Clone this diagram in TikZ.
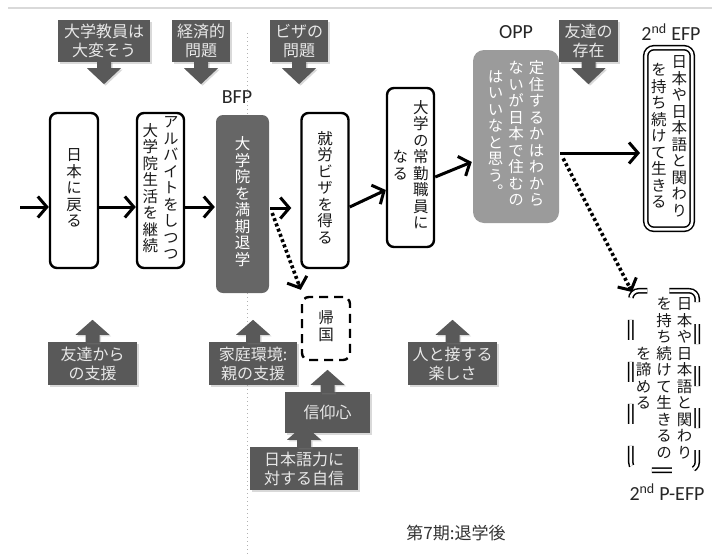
\documentclass[tikz,border=0pt]{standalone}
\usepackage{fontspec}
\setmainfont{Carlito}
\newfontfamily\jp{Noto Sans CJK JP}
\newfontfamily\vjp[RawFeature=+vert]{Noto Sans CJK JP}
\usetikzlibrary{arrows.meta,shadows,calc}
\ExplSyntaxOn
\tl_new:N \l_vc_tl
\NewDocumentCommand\vcol{m}{
  \tl_clear:N \l_vc_tl
  \tl_map_inline:nn {#1} { \tl_put_right:Nn \l_vc_tl { \smash{##1} \\ } }
  \begin{tabular}{@{}c@{}} \l_vc_tl \end{tabular}
}
\ExplSyntaxOff
\newcommand\vfont{\vjp\fontsize{15.5}{16.5}\selectfont}
\newcommand\cfont{\jp\fontsize{16}{19}\selectfont}
\newcommand\lfont{\fontsize{20}{24}\selectfont}
\newcommand\cg{\hspace{5pt}}
\definecolor{cgray}{HTML}{595959}
\definecolor{ctext}{HTML}{E8E8E8}
\definecolor{dgray}{HTML}{666666}
\definecolor{lgray}{HTML}{9B9B9B}
\newcommand\calldown[1]{\fill[callarrow] ($(#1.south)+(-7,-1)$) -- ($(#1.south)+(-7,6)$) -- ($(#1.south)+(-17,6)$) -- ($(#1.south)+(0,22)$) -- ($(#1.south)+(17,6)$) -- ($(#1.south)+(7,6)$) -- ($(#1.south)+(7,-1)$) -- cycle;}
\newcommand\callup[1]{\fill[callarrow] ($(#1.north)+(-7,1)$) -- ($(#1.north)+(-7,-7)$) -- ($(#1.north)+(-17,-7)$) -- ($(#1.north)+(0,-22)$) -- ($(#1.north)+(17,-7)$) -- ($(#1.north)+(7,-7)$) -- ($(#1.north)+(7,1)$) -- cycle;}
\begin{document}
\begin{tikzpicture}[x=1pt,y=-1pt,
 vbox/.style={draw=black, line width=2.4pt, rounded corners=7pt, inner sep=0pt, font=\vfont, text=black!90},
 darkbox/.style={vbox, draw=none, fill=dgray, text=white},
 oppbox/.style={vbox, draw=none, fill=lgray, text=white, rounded corners=11pt},
 dblbox/.style={vbox, line width=1.5pt, double=white, double distance=2.6pt, rounded corners=8pt},
 dashbox/.style={vbox, dash pattern=on 9pt off 6pt},
 dbldash/.style={dblbox, dash pattern=on 20pt off 22pt},
 callbox/.style={fill=cgray, text=ctext, font=\cfont, align=center, inner sep=0pt, drop shadow={opacity=0.3,shadow xshift=1.5pt,shadow yshift=-1.5pt}},
 callarrow/.style={fill=cgray, drop shadow={opacity=0.3,shadow xshift=1.5pt,shadow yshift=-1.5pt}},
 flow/.style={line width=3pt, -{Straight Barb[length=9pt,width=21pt]}},
 dotline/.style={line width=3.6pt, dash pattern=on 3pt off 2.6pt},
 lbl/.style={font=\lfont, text=black!85, inner sep=0pt},
]
\useasboundingbox (0,0) rectangle (712,555);
% background rules
\draw[gray!30, line width=2pt] (8,8) -- (712,8);
\draw[gray!60, line width=1pt, dash pattern=on 1pt off 3pt] (247,33) -- (247,555);

% main boxes
\node[vbox, minimum width=48pt, minimum height=155pt] (n1) at (74,190.5) {\vcol{日本に戻る}};
\node[vbox, minimum width=47pt, minimum height=155pt] (n2) at (160.5,190.5) {\vcol{大学院生活を継続}\cg\vcol{アルバイトをしつつ}};
\node[darkbox, minimum width=53pt, minimum height=178pt] (n3) at (242.5,204) {\vcol{大学院を満期退学}};
\node[vbox, minimum width=47pt, minimum height=155pt] (n4) at (325,190.5) {\vcol{就労ビザを得る}};
\node[vbox, minimum width=47pt, minimum height=159pt] (n5) at (410.5,167.5) {\vcol{なる}\cg\vcol{大学の常勤職員に}};
\node[oppbox, minimum width=86pt, minimum height=173pt] (opp) at (516,136.5) {\vcol{はいいなと思う。}\cg\vcol{ないが日本で住むの}\cg\vcol{定住するかはわから}};
\node[dblbox, minimum width=46.5pt, minimum height=181.5pt] (efp) at (669,138.5) {\vcol{を持ち続けて生きる}\cg\vcol{日本や日本語と関わり}};
\node[dashbox, minimum width=48pt, minimum height=63pt] (kikoku) at (326,328.5) {\vcol{帰国}};
\node[dbldash, minimum width=66.5pt, minimum height=179.5pt] (pefp) at (664,380.5) {\vcol{を諦める}\cg\vcol{を持ち続けて生きるの}\cg\vcol{日本や日本語と関わり}};

% labels
\node[lbl] (bfp) at (237,97) {BFP};
\node[lbl] (opplbl) at (516,32) {OPP};
\node[lbl] (efplbl) at (671,32) {2\textsuperscript{nd} EFP};
\node[lbl] (pefplbl) at (667,492) {2\textsuperscript{nd} P-EFP};
\node[font=\jp\fontsize{17}{20}\selectfont, text=black!80, inner sep=0pt] (cap) at (456,533) {第7期:退学後};

% callouts (down)
\node[callbox, minimum width=92pt, minimum height=42pt] (c1) at (104,41) {大学教員は\\大変そう};
\node[callbox, minimum width=58pt, minimum height=42pt] (c2) at (201,41) {経済的\\問題};
\node[callbox, minimum width=58pt, minimum height=42pt] (c3) at (299,41) {ビザの\\問題};
\node[callbox, minimum width=59pt, minimum height=42pt] (c4) at (588.5,41) {友達の\\存在};
\calldown{c1}\calldown{c2}\calldown{c3}\calldown{c4}

% callouts (up)
\node[callbox, minimum width=89pt, minimum height=43pt] (c5) at (92.5,363.5) {友達から\\の支援};
\node[callbox, minimum width=88pt, minimum height=43pt] (c6) at (253,363.5) {家庭環境:\\親の支援};
\node[callbox, minimum width=89pt, minimum height=43pt] (c7) at (452.5,363.5) {人と接する\\楽しさ};
\node[callbox, minimum width=85pt, minimum height=41pt] (c8) at (327.5,412.5) {信仰心};
\callup{c5}\callup{c6}\callup{c7}\callup{c8}
\node[callbox, minimum width=108pt, minimum height=43pt] (c9) at (304,468.5) {日本語力に\\対する自信};
\callup{c9}

% flow arrows
\coordinate (start) at (20,207);
\draw[flow] (start) -- (start -| n1.west);
\draw[flow] ($(n1.east)+(0,16.5)$) -- ($(n2.west)+(0,16.5)$);
\draw[flow] ($(n2.east)+(0,16.5)$) -- ($(n3.west)+(0,3)$);
\draw[flow, shorten >=9pt] ($(n3.east)+(0,4)$) -- ($(n4.west)+(0,17.5)$);
\draw[flow] ($(n4.east)+(0,16.5)$) -- ($(n5.west)+(0,22.5)$);
\draw[flow] ($(n5.east)+(0,9.5)$) -- ($(opp.west)+(0,25.5)$);
\draw[flow, shorten >=5pt] ($(opp.east)+(0,16.5)$) -- ($(efp.west)+(0,14.5)$);
% dotted arrows
\coordinate (d1s) at ($(n3.east)+(2,9)$);
\coordinate (d1e) at ($(kikoku.north west)+(0,-6)$);
\coordinate (d2s) at ($(opp.east)+(3,22)$);
\coordinate (d2e) at ($(pefp.north west)+(2,2)$);
\draw[dotline, shorten >=6pt] (d1s) -- (d1e);
\draw[flow] ($(d1e)!6pt!(d1s)$) -- (d1e);
\draw[dotline, shorten >=6pt] (d2s) -- (d2e);
\draw[flow] ($(d2e)!6pt!(d2s)$) -- (d2e);
\end{tikzpicture}
\end{document}
